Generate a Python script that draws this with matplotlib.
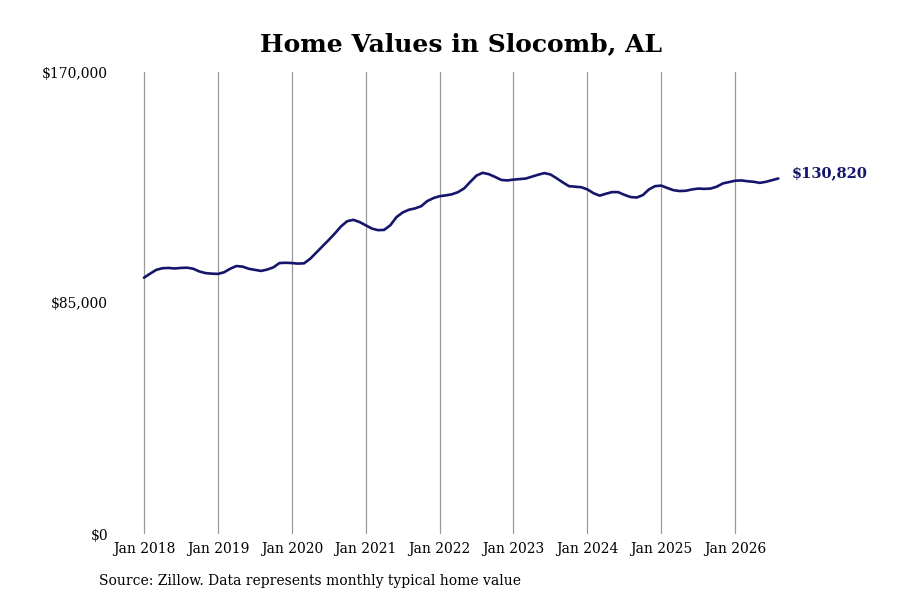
import matplotlib
matplotlib.use("Agg")
import matplotlib.pyplot as plt
import numpy as np

# Monthly typical home value, Jan 2018 .. Aug 2026
values = [
    94300, 95800, 97200, 97800, 97900, 97700, 97900, 98000, 97600, 96600, 96000, 95800,   # 2018
    95700, 96300, 97600, 98600, 98400, 97600, 97200, 96800, 97300, 98100, 99700, 99800,   # 2019
    99700, 99500, 99600, 101300, 103600, 105900, 108200, 110600, 113200, 115100, 115600, 114800,  # 2020
    113600, 112400, 111800, 111900, 113600, 116600, 118300, 119300, 119800, 120600, 122500, 123600,  # 2021
    124300, 124600, 125000, 125800, 127200, 129600, 131900, 132900, 132400, 131400, 130300, 130100,  # 2022
    130400, 130600, 130800, 131500, 132200, 132800, 132300, 130900, 129400, 128000, 127800, 127600,  # 2023
    126800, 125400, 124500, 125200, 125800, 125800, 124800, 124000, 123800, 124700, 126800, 128000,  # 2024
    128200, 127300, 126500, 126200, 126300, 126800, 127100, 127000, 127100, 127800, 129000, 129500,  # 2025
    130000, 130100, 129800, 129600, 129200, 129600, 130200, 130820,  # 2026
]
tick_labels = ["Jan 2018", "Jan 2019", "Jan 2020", "Jan 2021", "Jan 2022",
               "Jan 2023", "Jan 2024", "Jan 2025", "Jan 2026"]
y_ticks = [0, 85000, 170000]
y_labels = ["$0", "$85,000", "$170,000"]
last_label = "$130,820"

plt.rcParams['font.family'] = 'DejaVu Serif'

fig = plt.figure(figsize=(9, 6), dpi=100)
ax = fig.add_axes([117 / 900, 66 / 600, (790 - 117) / 900, 462 / 600])

months = np.arange(len(values))
line_color = '#15156b'
ax.plot(months, values, color=line_color, linewidth=1.9, solid_capstyle='round')

ax.set_xlim(-4.38, 104.9)
ax.set_ylim(0, 170000)
ax.set_xticks(np.arange(0, 12 * len(tick_labels), 12))
ax.set_xticklabels(tick_labels, fontsize=10)
ax.set_yticks(y_ticks)
ax.set_yticklabels(y_labels, fontsize=10)
ax.tick_params(axis='both', length=0)
ax.tick_params(axis='x', pad=6)
ax.tick_params(axis='y', pad=6.5)
ax.grid(axis='x', color='#999999', linewidth=0.9)
for s in ax.spines.values():
    s.set_visible(False)

ax.annotate(last_label, xy=(months[-1], values[-1]), xytext=(9.5, 4),
            textcoords='offset points', fontsize=10.5, fontweight='bold',
            color=line_color, va='center', ha='left')

fig.text(0.512, 0.927, "Home Values in Slocomb, AL", ha='center', va='center',
         fontsize=18, fontweight='bold')
fig.text(99 / 900, 1 - 581 / 600, "Source: Zillow. Data represents monthly typical home value",
         ha='left', va='center', fontsize=10)

fig.savefig("out.png", dpi=100)
